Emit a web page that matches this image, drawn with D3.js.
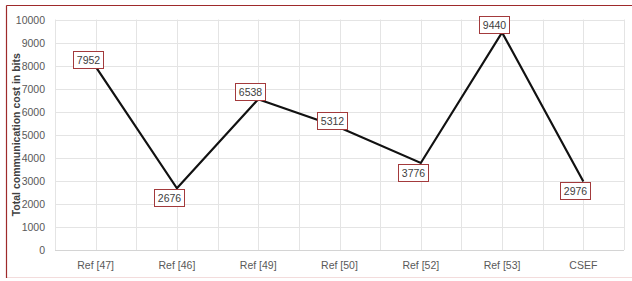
<!DOCTYPE html>
<html lang="en">
<head>
<meta charset="utf-8" />
<script src="https://d3js.org/d3.v7.min.js"></script>
<style>
  html, body { margin: 0; padding: 0; background: #fff; }
  svg { display: block; }
</style>
</head>
<body>
<svg id="canvas" width="632" height="281"></svg>
<script>
// chart data
var categories = ["Ref [47]", "Ref [46]", "Ref [49]", "Ref [50]", "Ref [52]", "Ref [53]", "CSEF"];
var costs = [7952, 2676, 6538, 5312, 3776, 9440, 2976];
var yTicks = [0, 1000, 2000, 3000, 4000, 5000, 6000, 7000, 8000, 9000, 10000];
var yTitle = "Total communication cost in bits";

var svg = d3.select("#canvas");
var font = "'Liberation Sans', Arial, sans-serif";

// frame
svg.append("rect").attr("x", 6.5).attr("y", 5.5).attr("width", 640).attr("height", 272)
  .attr("fill", "#fff").attr("stroke", "#f3dcdc").attr("stroke-width", 1);
svg.append("line").attr("x1", 6.5).attr("x2", 632).attr("y1", 5.5).attr("y2", 5.5)
  .attr("stroke", "#9e2a2b").attr("stroke-width", 1.2);
svg.append("line").attr("x1", 6.5).attr("x2", 6.5).attr("y1", 5.5).attr("y2", 278)
  .attr("stroke", "#9e2a2b").attr("stroke-width", 1.2);

var plotL = 55, plotR = 624, plotT = 19.5, plotB = 250;

var x = d3.scaleBand().domain(categories).range([plotL, plotR]);
var y = d3.scaleLinear().domain([0, 10000]).range([plotB, plotT]);

var cx = function(c) { return x(c) + x.bandwidth() / 2; };

// horizontal grid
svg.append("g").selectAll("line").data(yTicks.slice(1)).enter().append("line")
  .attr("x1", plotL).attr("x2", plotR)
  .attr("y1", function(d) { return Math.round(y(d)) + 0.5; })
  .attr("y2", function(d) { return Math.round(y(d)) + 0.5; })
  .attr("stroke", "#e4e4e4").attr("stroke-width", 1);

// vertical grid, at band edges and centres
var vx = [];
categories.forEach(function(c) { vx.push(x(c)); vx.push(cx(c)); });
vx.push(plotR);
svg.append("g").selectAll("line").data(vx).enter().append("line")
  .attr("x1", function(d) { return Math.round(d) + 0.5; })
  .attr("x2", function(d) { return Math.round(d) + 0.5; })
  .attr("y1", plotT).attr("y2", plotB)
  .attr("stroke", "#e4e4e4").attr("stroke-width", 1);

// base axis line
svg.append("line").attr("x1", plotL).attr("x2", plotR)
  .attr("y1", Math.round(plotB) + 0.5).attr("y2", Math.round(plotB) + 0.5)
  .attr("stroke", "#d4d4d4");

// y tick labels
svg.append("g").selectAll("text").data(yTicks).enter().append("text")
  .attr("x", 45).attr("y", function(d) { return y(d) + 4; })
  .attr("text-anchor", "end")
  .attr("font-family", font).attr("font-size", 10.5).attr("fill", "#595959")
  .text(function(d) { return d; });

// x category labels
svg.append("g").selectAll("text").data(categories).enter().append("text")
  .attr("x", cx).attr("y", 269)
  .attr("text-anchor", "middle")
  .attr("font-family", font).attr("font-size", 10.5).attr("fill", "#595959")
  .text(function(d) { return d; });

// y title
svg.append("text")
  .attr("transform", "translate(20," + ((plotT + plotB) / 2) + ") rotate(-90)")
  .attr("text-anchor", "middle")
  .attr("font-family", font).attr("font-size", 10.5).attr("font-weight", "bold")
  .attr("fill", "#404040")
  .text(yTitle);

// line
var line = d3.line()
  .x(function(d, i) { return cx(categories[i]); })
  .y(function(d) { return y(d); });
svg.append("path").datum(costs)
  .attr("d", line)
  .attr("fill", "none").attr("stroke", "#111").attr("stroke-width", 2.2)
  .attr("stroke-linejoin", "miter");

// data labels: below local minima, above otherwise
var boxW = 30, boxH = 17;
var labels = svg.append("g").selectAll("g").data(costs).enter().append("g")
  .attr("transform", function(d, i) {
    var prev = i > 0 ? costs[i - 1] : -Infinity;
    var next = i < costs.length - 1 ? costs[i + 1] : -Infinity;
    var below = d < prev && (i === costs.length - 1 || d < next);
    var px = cx(categories[i]) - 8 - boxW / 2;
    var py = below ? y(d) + 1 : y(d) - boxH + 1;
    return "translate(" + Math.round(px) + "," + Math.round(py) + ")";
  });
labels.append("rect")
  .attr("x", 0.5).attr("y", 0.5).attr("width", boxW).attr("height", boxH)
  .attr("fill", "#fff").attr("stroke", "#a33a3c").attr("stroke-width", 1);
labels.append("text")
  .attr("x", boxW / 2 + 0.5).attr("y", boxH / 2 + 4.5)
  .attr("text-anchor", "middle")
  .attr("font-family", font).attr("font-size", 10.5).attr("fill", "#404040")
  .text(function(d) { return d; });
</script>
</body>
</html>
